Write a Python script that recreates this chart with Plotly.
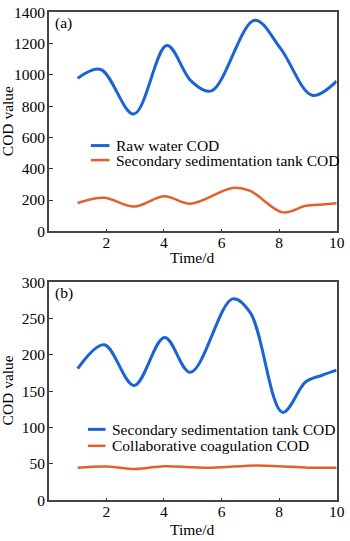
import plotly.graph_objects as go

# ---- data ----
raw_t = [1.0, 1.8, 2.95, 4.1, 4.95, 5.65, 7.15, 8.05, 9.15, 10.0]
raw_cod = [978, 1035, 750, 1188, 960, 898, 1350, 1170, 870, 960]

sec_t = [1.0, 1.92, 2.96, 4.02, 4.92, 6.38, 7.0, 8.12, 8.93, 9.5, 10.0]
sec_cod = [181, 214, 158, 224, 176, 277, 258, 121, 163, 172, 179]

coag_t = [1.0, 2.0, 3.0, 4.0, 5.0, 5.7, 7.2, 8.0, 9.0, 10.0]
coag_cod = [45, 46.5, 43, 47, 45.5, 45, 48, 47, 45, 45]

x_ticks = [2, 4, 6, 8, 10]
y_ticks_a = [0, 200, 400, 600, 800, 1000, 1200, 1400]
y_ticks_b = [0, 50, 100, 150, 200, 250, 300]

BLUE = "#1b64d3"
ORANGE = "#e2612b"
FONT = "Times New Roman, Liberation Serif, serif"
FS = 15.5
W, H = 350, 541

fig = go.Figure()
fig.add_trace(go.Scatter(x=raw_t, y=raw_cod, mode="lines", name="Raw water COD",
                         line=dict(color=BLUE, width=3, shape="spline", smoothing=1.0),
                         xaxis="x", yaxis="y", showlegend=False))
fig.add_trace(go.Scatter(x=sec_t, y=sec_cod, mode="lines", name="Secondary sedimentation tank COD",
                         line=dict(color=ORANGE, width=2.5, shape="spline", smoothing=1.0),
                         xaxis="x", yaxis="y", showlegend=False))
fig.add_trace(go.Scatter(x=sec_t, y=sec_cod, mode="lines", name="Secondary sedimentation tank COD",
                         line=dict(color=BLUE, width=3, shape="spline", smoothing=1.0),
                         xaxis="x2", yaxis="y2", showlegend=False))
fig.add_trace(go.Scatter(x=coag_t, y=coag_cod, mode="lines", name="Collaborative coagulation COD",
                         line=dict(color=ORANGE, width=2.5, shape="spline", smoothing=1.0),
                         xaxis="x2", yaxis="y2", showlegend=False))

def px2x(px):
    return px / W

def py2y(py):
    return 1 - py / H

xdom = [px2x(50), px2x(344.5)]
common_x = dict(range=[0, 10], tickvals=x_ticks, ticks="inside", ticklen=3, tickwidth=1,
                tickcolor="#333", showline=True, linecolor="#444", linewidth=1.5, mirror=True,
                showgrid=False, zeroline=False, tickfont=dict(family=FONT, size=FS, color="black"),
                ticklabeloverflow="allow", ticklabelstandoff=-4, domain=xdom)
common_y = dict(ticks="inside", ticklen=4, tickwidth=1, tickcolor="#333", showline=True,
                linecolor="#444", linewidth=1.5, mirror=True, showgrid=False, zeroline=False,
                tickfont=dict(family=FONT, size=FS, color="black"), ticklabeloverflow="allow",
                ticklabelstandoff=-1)

fig.update_layout(
    width=W, height=H, margin=dict(l=0, r=0, t=0, b=0),
    paper_bgcolor="white", plot_bgcolor="white",
    font=dict(family=FONT, size=FS, color="black"),
    xaxis=dict(**common_x, anchor="y"),
    yaxis=dict(**common_y, range=[0, 1400], tickvals=y_ticks_a,
               domain=[py2y(229.5), py2y(3.5)], anchor="x"),
    xaxis2=dict(**common_x, anchor="y2"),
    yaxis2=dict(**common_y, range=[0, 300], tickvals=y_ticks_b,
                domain=[py2y(507.3), py2y(282)], anchor="x2"),
)

ann = []
shapes = []
# axis titles
for cy in (116, 394):
    ann.append(dict(text="COD value", x=px2x(8), y=py2y(cy), xref="paper", yref="paper",
                    textangle=-90, showarrow=False, xanchor="center", yanchor="middle",
                    font=dict(family=FONT, size=FS)))
for cy in (257, 537):
    ann.append(dict(text="Time/d", x=px2x(197), y=py2y(cy), xref="paper", yref="paper",
                    showarrow=False, xanchor="center", yanchor="middle",
                    font=dict(family=FONT, size=FS)))
# panel labels
for lab, cy in (("(a)", 14), ("(b)", 293)):
    ann.append(dict(text=lab, x=px2x(54), y=py2y(cy), xref="paper", yref="paper",
                    showarrow=False, xanchor="left", yanchor="middle",
                    font=dict(family=FONT, size=FS)))
# legends
legend_items = [
    ("Raw water COD", BLUE, 3, 93, 112, 117, 141),
    ("Secondary sedimentation tank COD", ORANGE, 2.5, 93, 112, 117, 156),
    ("Secondary sedimentation tank COD", BLUE, 3, 90, 108, 113, 434),
    ("Collaborative coagulation COD", ORANGE, 2.5, 90, 108, 113, 451),
]
for text, col, lw, x0, x1, tx, cy in legend_items:
    shapes.append(dict(type="line", xref="paper", yref="paper", x0=px2x(x0), x1=px2x(x1),
                       y0=py2y(cy), y1=py2y(cy), line=dict(color=col, width=lw)))
    ann.append(dict(text=text, x=px2x(tx), y=py2y(cy), xref="paper", yref="paper",
                    showarrow=False, xanchor="left", yanchor="middle",
                    font=dict(family=FONT, size=FS)))

fig.update_layout(annotations=ann, shapes=shapes)
fig.write_html("out.html")
